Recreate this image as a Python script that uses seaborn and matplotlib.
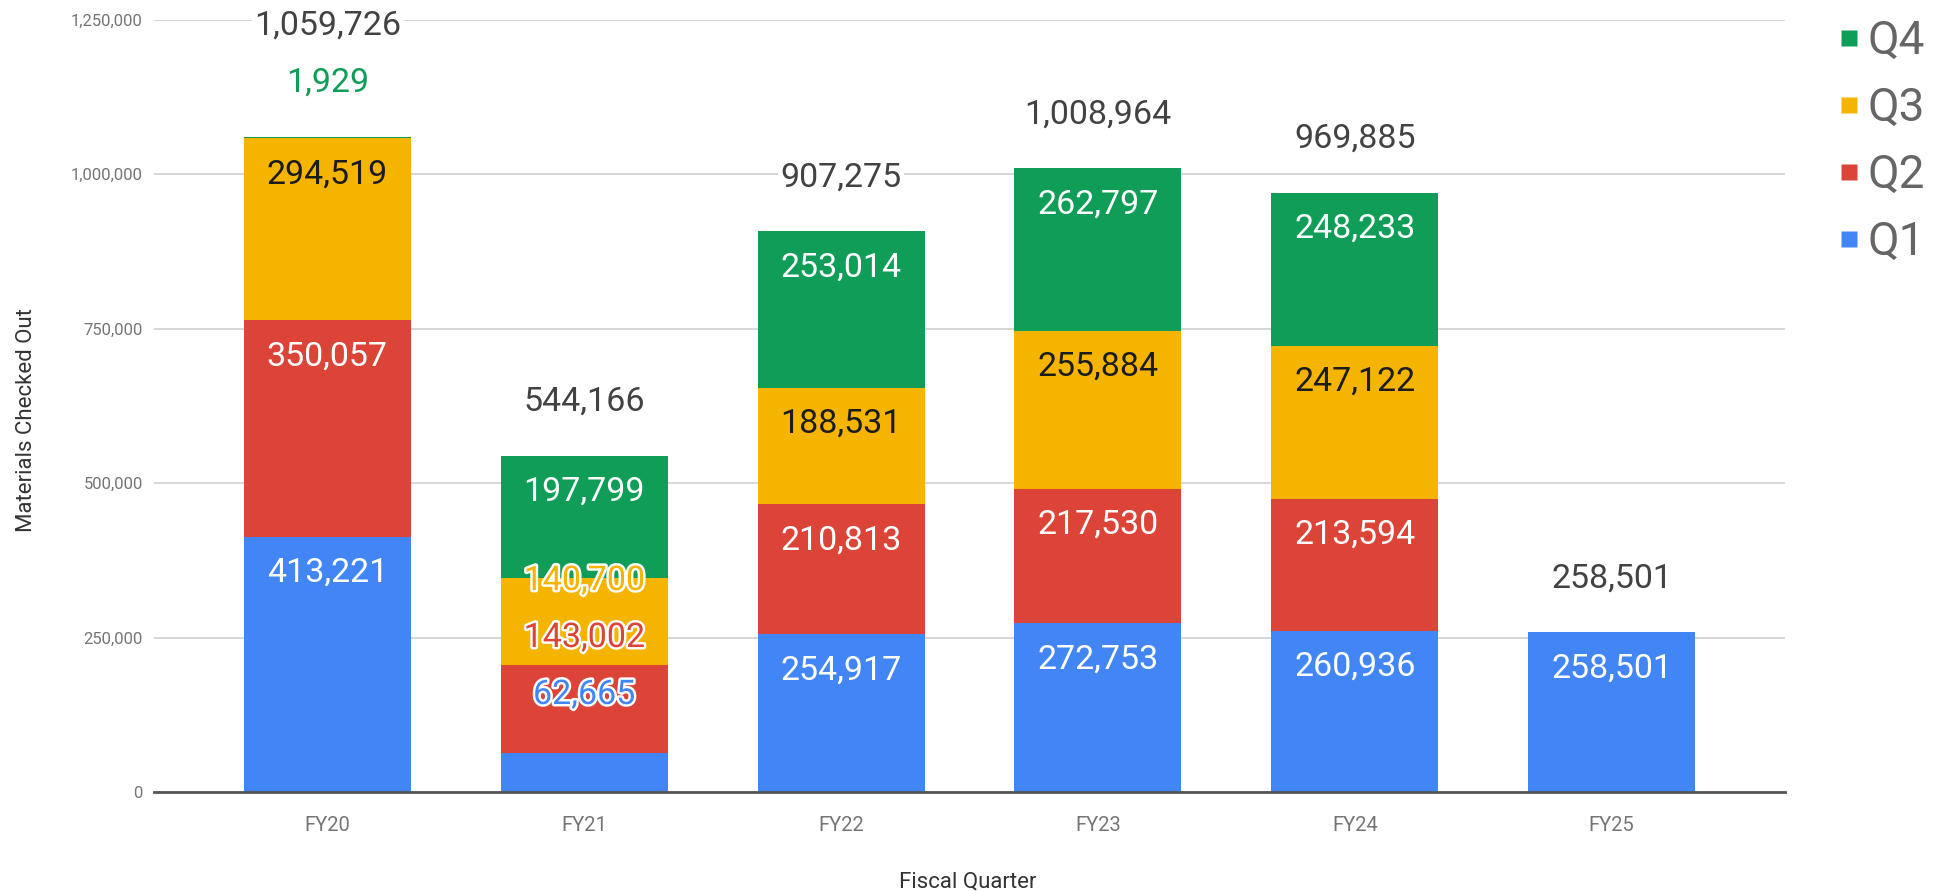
import numpy as np
import pandas as pd
import matplotlib
matplotlib.use("Agg")
import matplotlib.pyplot as plt
from matplotlib import patheffects as pe
from matplotlib.lines import Line2D
import seaborn as sns

# ---------------- data ----------------
years = ["FY20", "FY21", "FY22", "FY23", "FY24", "FY25"]
quarters = ["Q1", "Q2", "Q3", "Q4"]
q1 = [413221, 62665, 254917, 272753, 260936, 258501]
q2 = [350057, 143002, 210813, 217530, 213594, 0]
q3 = [294519, 140700, 188531, 255884, 247122, 0]
q4 = [1929, 197799, 253014, 262797, 248233, 0]
yticks = [0, 250000, 500000, 750000, 1000000, 1250000]

# ---------------- style ----------------
colors = {"Q1": "#4285F4", "Q2": "#DB4437", "Q3": "#F4B400", "Q4": "#0F9D58"}
inside_text = {"Q1": "white", "Q2": "white", "Q3": "#1c1c1c", "Q4": "white"}
total_color = "#424242"
tick_color = "#757575"

sns.set_theme(style="white")
plt.rcParams['font.family'] = ['Roboto', 'DejaVu Sans']

W, H = 1947, 891
fig = plt.figure(figsize=(W / 100, H / 100), dpi=100)
ax_left, ax_right, ax_bottom, ax_top = 154, 1785, 792, 19.5
ax = fig.add_axes([ax_left / W, (H - ax_bottom) / H,
                   (ax_right - ax_left) / W, (ax_bottom - ax_top) / H])

df = pd.DataFrame({"year": years, "Q1": q1, "Q2": q2, "Q3": q3, "Q4": q4})
cum = df[quarters].cumsum(axis=1)

for q in reversed(quarters):
    sns.barplot(x=df["year"], y=cum[q], color=colors[q], width=0.65,
                saturation=1, linewidth=0, ax=ax, zorder=2)

YMAX = 1250000
ax.set_ylim(0, YMAX)
ax.set_xlim(-0.675, 5.675)
ax.set_axisbelow(True)
ax.set_yticks(yticks)
ax.set_yticklabels([f"{v:,}" for v in yticks])
ax.yaxis.grid(True, color="#d0d0d0", linewidth=1.2, zorder=0)
ax.xaxis.grid(False)
for s in ["top", "right", "left"]:
    ax.spines[s].set_visible(False)
ax.spines["bottom"].set_color("#555555")
ax.spines["bottom"].set_linewidth(2)
ax.spines["bottom"].set_zorder(3)
ax.tick_params(axis="y", length=0, pad=8, labelsize=12, labelcolor=tick_color)
ax.tick_params(axis="x", length=0, pad=17, labelsize=14.5, labelcolor=tick_color)

ax.set_xlabel("Fiscal Quarter", fontsize=16, color="#333333")
ax.set_ylabel("Materials Checked Out", fontsize=16, color="#333333")
ax.xaxis.set_label_coords(0.499, -0.103)
ax.yaxis.set_label_coords(-0.072, 0.482)

# ---------------- labels ----------------
px = YMAX / (ax_bottom - ax_top)   # data units per pixel
inside_off = 36 * px
above_off = 54 * px
gap = 57 * px
floor = 97 * px
small = 20 * px
FS = 24.5

outline = [pe.Stroke(linewidth=3.5, foreground="white"), pe.Normal()]
box = dict(facecolor="white", edgecolor="none", pad=1.5)

for i, yr in enumerate(years):
    vals = [df.loc[i, q] for q in quarters]
    tops = [cum.loc[i, q] for q in quarters]
    total = tops[-1]
    inside, above = [], []
    for j, q in enumerate(quarters):
        if vals[j] <= 0:
            continue
        if vals[j] < small:
            above.append(j)
        else:
            inside.append(j)
    desired = {j: tops[j] - inside_off for j in inside}
    pos = dict(desired)
    # top-down: keep spacing
    order = sorted(inside, reverse=True)
    for a, b in zip(order[:-1], order[1:]):
        pos[b] = min(pos[b], pos[a] - gap)
    # bottom-up: respect floor and spacing
    prev = None
    for j in sorted(inside):
        lo = floor if prev is None else pos[prev] + gap
        pos[j] = max(pos[j], lo)
        prev = j
    for j in inside:
        q = quarters[j]
        moved = abs(pos[j] - desired[j]) > 1
        if moved:
            ax.text(i, pos[j], f"{vals[j]:,}", ha="center", va="center",
                    fontsize=FS, color=colors[q], path_effects=outline, zorder=5)
        else:
            ax.text(i, pos[j], f"{vals[j]:,}", ha="center", va="center",
                    fontsize=FS, color=inside_text[q], zorder=5)
    y = total + above_off
    for j in above:
        q = quarters[j]
        ax.text(i, y, f"{vals[j]:,}", ha="center", va="center",
                fontsize=FS, color=colors[q], bbox=box, zorder=5)
        y += gap
    ax.text(i, y, f"{total:,}", ha="center", va="center",
            fontsize=FS, color=total_color, bbox=box, zorder=5, clip_on=False)

# ---------------- legend ----------------
handles = [Line2D([], [], marker="s", linestyle="none", markersize=12,
                  markerfacecolor=colors[q], markeredgecolor="none")
           for q in reversed(quarters)]
leg = fig.legend(handles, list(reversed(quarters)), loc="upper left",
                 bbox_to_anchor=(1812 / W, 1 + 4 / H), frameon=False,
                 fontsize=33, labelcolor="#666666", handlelength=0.6,
                 handletextpad=0.12, labelspacing=0.5, borderpad=0)

fig.savefig("out.png", dpi=100, facecolor="white")
